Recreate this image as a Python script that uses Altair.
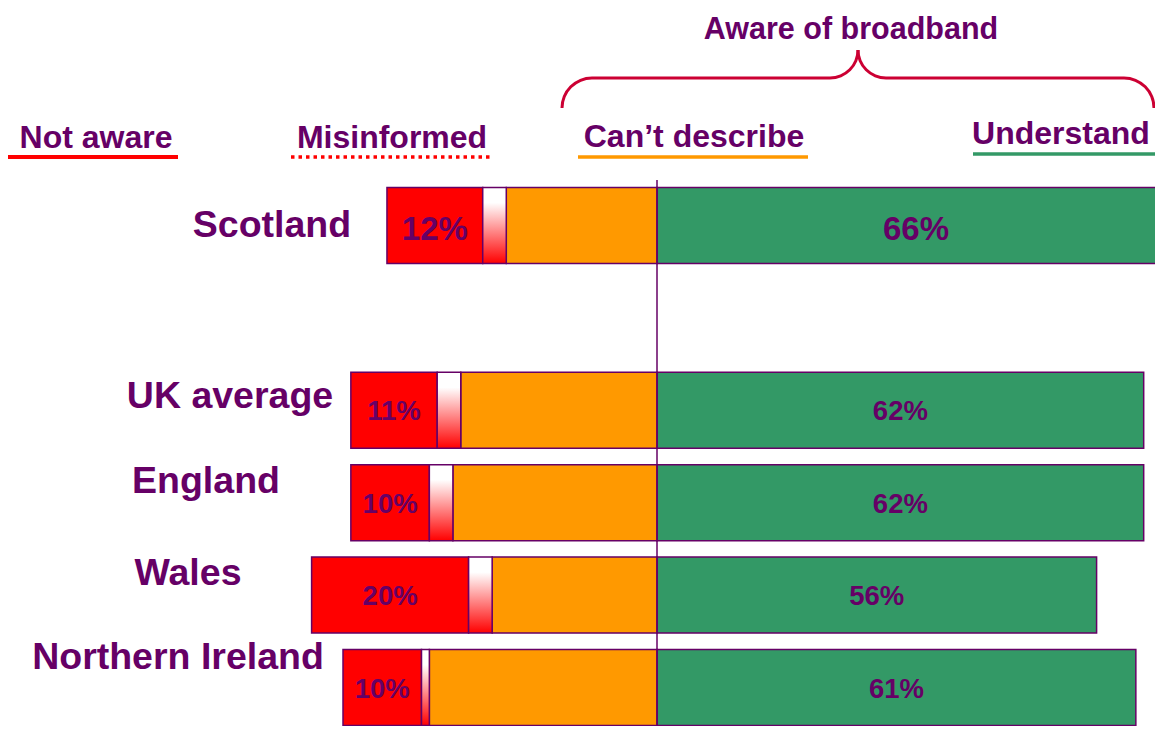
import math
import altair as alt
import pandas as pd

# ---------------- data ----------------
countries = ["Scotland", "UK average", "England", "Wales", "Northern Ireland"]
row_index = [0, 2, 3, 4, 5]
not_aware = [12.2, 11, 10, 20, 10]
misinformed = [3, 3, 3, 3, 1]
cant_describe = [19.2, 25, 26, 21, 29]
understand = [66, 62, 62, 56, 61]
not_aware_labels = ["12%", "11%", "10%", "20%", "10%"]
understand_labels = ["66%", "62%", "62%", "56%", "61%"]
segment_names = ["Not aware", "Misinformed", "Can\u2019t describe", "Understand"]

# ---------------- layout / style ----------------
PURPLE = "#660066"
RED = "#FF0000"
ORANGE = "#FF9900"
GREEN = "#339966"
BRACE = "#CC0033"
FONT = "Liberation Sans"
PX_PER_PCT = 7.85
CENTER_X = 657
Y0 = 225.5
DY = 92.4
W, H = 1147, 718
BAR_H = 76


def px(x):
    return (x - CENTER_X) / PX_PER_PCT


def py(y):
    return (y - Y0) / DY


x_scale = alt.Scale(domain=[px(8), px(8 + W)], nice=False, zero=False, padding=0)
y_scale = alt.Scale(domain=[py(8), py(8 + H)], nice=False, zero=False, reverse=True, padding=0)

# country-name placement (screen x centre, baseline offset from bar centre in px)
name_center_px = [272, 230, 206, 188, 178]
name_baseline_off = [11, -2, -10, -10, -19]
label_baseline_off = [14, 10, 10, 10, 10]
label_font = [33, 27.5, 27.5, 27.5, 27.5]

# ---------------- tables ----------------
seg_rows = []
grad_rows = []
lab_rows = []
name_rows = []
for i, c in enumerate(countries):
    r = row_index[i]
    cd, mi, na, un = cant_describe[i], misinformed[i], not_aware[i], understand[i]
    seg_rows.append(dict(country=c, row=r, seg="Understand", x0=0, x1=un))
    seg_rows.append(dict(country=c, row=r, seg="Can\u2019t describe", x0=-cd, x1=0))
    seg_rows.append(dict(country=c, row=r, seg="Not aware", x0=-(cd + mi + na), x1=-(cd + mi)))
    grad_rows.append(dict(country=c, row=r, x0=-(cd + mi), x1=-cd))
    off = label_baseline_off[i] / DY
    lab_rows.append(dict(x=-(cd + mi + na / 2), y=r + off, t=not_aware_labels[i], fs=label_font[i]))
    lab_rows.append(dict(x=un / 2, y=r + off, t=understand_labels[i], fs=label_font[i]))
    name_rows.append(dict(x=px(name_center_px[i]), y=r + name_baseline_off[i] / DY, t=c))

seg_df = pd.DataFrame(seg_rows)
grad_df = pd.DataFrame(grad_rows)
lab_df = pd.DataFrame(lab_rows)
name_df = pd.DataFrame(name_rows)

X = lambda f: alt.X(f, scale=x_scale, axis=None)
Y = lambda f: alt.Y(f, scale=y_scale, axis=None)

bars = alt.Chart(seg_df).mark_bar(
    orient="horizontal", size=BAR_H, stroke=PURPLE, strokeWidth=1.5, clip=True
).encode(
    x=X("x0:Q"), x2="x1:Q", y=Y("row:Q"),
    color=alt.Color("seg:N", scale=alt.Scale(domain=["Not aware", "Can\u2019t describe", "Understand"],
                                             range=[RED, ORANGE, GREEN]), legend=None),
)

grad = alt.Gradient(
    gradient="linear",
    stops=[alt.GradientStop(color="#ffffff", offset=0),
           alt.GradientStop(color="#ffffff", offset=0.2),
           alt.GradientStop(color="#ff0000", offset=1)],
    x1=0, x2=0, y1=0, y2=1,
)
mis_bars = alt.Chart(grad_df).mark_bar(
    orient="horizontal", size=BAR_H, stroke=PURPLE, strokeWidth=1.5, fill=grad, clip=True
).encode(x=X("x0:Q"), x2="x1:Q", y=Y("row:Q"))

center_df = pd.DataFrame([dict(x=0, y0=py(180), y1=py(8 + H))])
center_line = alt.Chart(center_df).mark_rule(color=PURPLE, strokeWidth=1.5).encode(
    x=X("x:Q"), y=Y("y0:Q"), y2="y1:Q"
)

pct_text = alt.Chart(lab_df).mark_text(
    font=FONT, fontWeight="bold", color=PURPLE, align="center", baseline="alphabetic"
).encode(x=X("x:Q"), y=Y("y:Q"), text="t:N", size=alt.Size("fs:Q", scale=None))

name_text = alt.Chart(name_df).mark_text(
    font=FONT, fontWeight="bold", color=PURPLE, align="center", baseline="alphabetic", fontSize=37.5
).encode(x=X("x:Q"), y=Y("y:Q"), text="t:N")

# ---------------- header (legend + brace) ----------------
head_df = pd.DataFrame([
    dict(x=px(96), y=py(148), t=segment_names[0]),
    dict(x=px(392), y=py(148), t=segment_names[1]),
    dict(x=px(694), y=py(147), t=segment_names[2]),
    dict(x=px(1061), y=py(144), t=segment_names[3]),
])
head_text = alt.Chart(head_df).mark_text(
    font=FONT, fontWeight="bold", color=PURPLE, align="center", baseline="alphabetic", fontSize=32
).encode(x=X("x:Q"), y=Y("y:Q"), text="t:N")

title_df = pd.DataFrame([dict(x=px(851), y=py(38.5), t="Aware of broadband")])
title_text = alt.Chart(title_df).mark_text(
    font=FONT, fontWeight="bold", color=PURPLE, align="center", baseline="alphabetic", fontSize=30.5
).encode(x=X("x:Q"), y=Y("y:Q"), text="t:N")

ul_df = pd.DataFrame([
    dict(x0=px(8), x1=px(178), y=py(157), c=RED, w=4),
    dict(x0=px(578), x1=px(808), y=py(157), c=ORANGE, w=3.5),
    dict(x0=px(973), x1=px(1157), y=py(154), c=GREEN, w=3.5),
])
underlines = alt.Chart(ul_df).mark_rule().encode(
    x=X("x0:Q"), x2="x1:Q", y=Y("y:Q"),
    color=alt.Color("c:N", scale=None), strokeWidth=alt.StrokeWidth("w:Q", scale=None),
)
dot_df = pd.DataFrame([dict(x0=px(291), x1=px(493), y=py(157))])
dotted = alt.Chart(dot_df).mark_rule(color=RED, strokeWidth=3.5, strokeDash=[3.5, 4]).encode(
    x=X("x0:Q"), x2="x1:Q", y=Y("y:Q")
)

brace_rule_df = pd.DataFrame([
    dict(x0=px(592), x1=px(830), y=py(78)),
    dict(x0=px(886), x1=px(1124), y=py(78)),
])
brace_rules = alt.Chart(brace_rule_df).mark_rule(color=BRACE, strokeWidth=3).encode(
    x=X("x0:Q"), x2="x1:Q", y=Y("y:Q")
)
PI = math.pi
brace_arc_df = pd.DataFrame([
    dict(cx=px(592), cy=py(108), t0=1.5 * PI, t1=2 * PI, ro=31.5, ri=28.5),
    dict(cx=px(830), cy=py(50), t0=0.5 * PI, t1=PI, ro=29.5, ri=26.5),
    dict(cx=px(886), cy=py(50), t0=PI, t1=1.5 * PI, ro=29.5, ri=26.5),
    dict(cx=px(1124), cy=py(108), t0=0, t1=0.5 * PI, ro=31.5, ri=28.5),
])
brace_arcs = alt.Chart(brace_arc_df).mark_arc(color=BRACE).encode(
    x=X("cx:Q"), y=Y("cy:Q"),
    theta=alt.Theta("t0:Q", scale=None), theta2="t1:Q",
    radius=alt.Radius("ro:Q", scale=None), radius2="ri:Q",
)

chart = alt.layer(
    bars, mis_bars, center_line, pct_text, name_text,
    head_text, title_text, underlines, dotted, brace_rules, brace_arcs,
).properties(
    width=W, height=H, padding=0,
    autosize=alt.AutoSizeParams(type="none"),
    background="white",
).configure_view(stroke=None)

chart.save("out.html", embed_options={"renderer": "svg", "actions": False})
